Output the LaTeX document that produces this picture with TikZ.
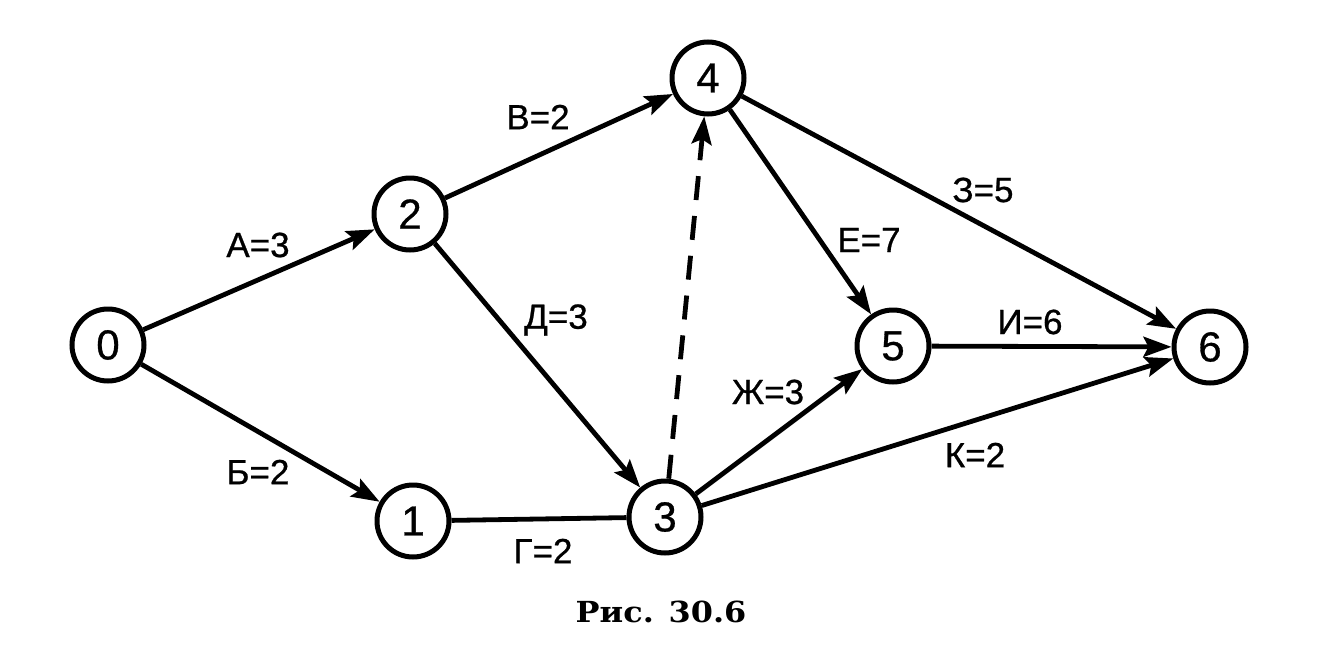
\documentclass[tikz,border=0pt]{standalone}
\usepackage{fontspec}
\setmainfont{Liberation Sans}
\newfontfamily\labfont{Liberation Sans}[FakeBold=0.7]
\newfontfamily\capfont{DejaVu Serif}
\usetikzlibrary{arrows.meta}
\tikzset{
  ev/.style={circle, draw, line width=2.5pt, minimum size=36pt, inner sep=0pt, font=\labfont\fontsize{21}{21}\selectfont},
  job/.style={line width=2.4pt, -{Stealth[length=14pt,width=10pt,inset=2.5pt]}},
  plain/.style={line width=2.4pt},
  dum/.style={line width=2.4pt, dash pattern=on 12pt off 8pt, -{Stealth[length=14pt,width=10pt,inset=2.5pt]}},
  lab/.style={font=\labfont\fontsize{17.5}{17.5}\selectfont, inner sep=0pt}
}
\begin{document}
\begin{tikzpicture}[x=0.5pt,y=-0.5pt]
\useasboundingbox (0,0) rectangle (1318,659);
\node[ev] (n0) at (108,345) {0};
\node[ev] (n2) at (410,214) {2};
\node[ev] (n1) at (413,521) {1};
\node[ev] (n3) at (665,517) {3};
\node[ev] (n4) at (708,78) {4};
\node[ev] (n5) at (893,346) {5};
\node[ev] (n6) at (1210,347) {6};
\draw[job] (n0) -- (n2);
\draw[job] (n0) -- (n1);
\draw[job] (n2) -- (n4);
\draw[job] (n2) -- (n3);
\draw[plain] (n1) -- (n3);
\draw[dum] (n3) -- (n4);
\draw[job] (n3) -- (n5);
\draw[job] (n3) -- (n6);
\draw[job] (n4) -- (n5);
\draw[job] (n4) -- (n6);
\draw[job] (n5) -- (n6);
\node[lab] (la) at (258,245) {А=3};
\node[lab] (lb) at (258,472) {Б=2};
\node[lab] (lv) at (538,117) {В=2};
\node[lab] (ld) at (556,320) {Д=3};
\node[lab] (lg) at (543,551) {Г=2};
\node[lab] (lzh) at (768,392) {Ж=3};
\node[lab] (le) at (869,240) {Е=7};
\node[lab] (lz) at (983,190) {З=5};
\node[lab] (li) at (1030,322) {И=6};
\node[lab] (lk) at (975,455) {К=2};
\node[inner sep=0pt] (cap) at (661,612) {\scalebox{1.1}[1]{\capfont\bfseries\fontsize{14.5}{14.5}\selectfont Рис. 30.6}};
\end{tikzpicture}
\end{document}
